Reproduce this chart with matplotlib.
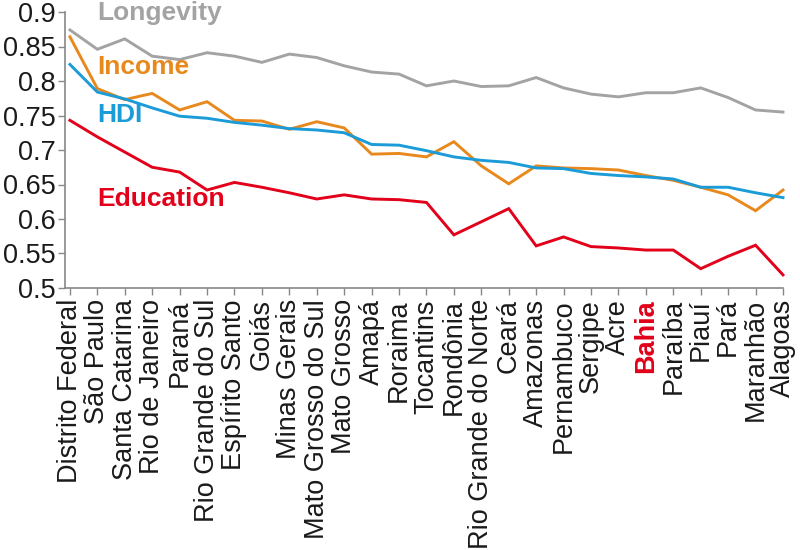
import matplotlib
matplotlib.use("Agg")
import matplotlib.pyplot as plt

states = ["Distrito Federal", "São Paulo", "Santa Catarina", "Rio de Janeiro", "Paraná",
          "Rio Grande do Sul", "Espírito Santo", "Goiás", "Minas Gerais", "Mato Grosso do Sul",
          "Mato Grosso", "Amapá", "Roraima", "Tocantins", "Rondônia", "Rio Grande do Norte",
          "Ceará", "Amazonas", "Pernambuco", "Sergipe", "Acre", "Bahia", "Paraíba", "Piauí",
          "Pará", "Maranhão", "Alagoas"]

longevity = [0.874, 0.846, 0.861, 0.836, 0.831, 0.841, 0.836, 0.827, 0.839, 0.834,
             0.822, 0.813, 0.810, 0.793, 0.800, 0.792, 0.793, 0.805, 0.790, 0.781,
             0.777, 0.783, 0.783, 0.790, 0.776, 0.758, 0.755]
income = [0.864, 0.789, 0.773, 0.782, 0.758, 0.770, 0.743, 0.742, 0.730, 0.741,
          0.732, 0.694, 0.695, 0.690, 0.712, 0.677, 0.651, 0.677, 0.674, 0.673,
          0.671, 0.663, 0.656, 0.646, 0.635, 0.612, 0.642]
hdi = [0.824, 0.784, 0.774, 0.761, 0.749, 0.746, 0.740, 0.736, 0.731, 0.729,
       0.725, 0.708, 0.707, 0.699, 0.690, 0.685, 0.682, 0.674, 0.673, 0.666,
       0.663, 0.661, 0.658, 0.646, 0.646, 0.638, 0.631]
education = [0.743, 0.719, 0.697, 0.675, 0.668, 0.642, 0.653, 0.646, 0.638, 0.629,
             0.635, 0.629, 0.628, 0.624, 0.577, 0.596, 0.615, 0.561, 0.574, 0.560,
             0.558, 0.555, 0.555, 0.528, 0.546, 0.562, 0.519]

series = [("Longevity", longevity, "#a3a3a3", 0.898),
          ("Income", income, "#e8891d", 0.820),
          ("HDI", hdi, "#1b9bd7", 0.751),
          ("Education", education, "#e2001a", 0.629)]

highlight = "Bahia"

plt.rcParams['font.family'] = ['Liberation Sans', 'DejaVu Sans']

fig = plt.figure(figsize=(8, 5.5), dpi=100)
ax = fig.add_axes([65/800, 1 - 288/550, (783 - 65)/800, (288 - 12)/550])

x = list(range(len(states)))
for name, vals, color, ly in series:
    ax.plot(x, vals, color=color, lw=2.1, solid_joinstyle='miter', clip_on=False)
    ax.text(1.0, ly, name, color=color, fontsize=19, fontweight='bold',
            ha='left', va='center')

ax.set_xlim(-0.18, 26)
ax.set_ylim(0.5, 0.9)
ax.set_yticks([0.5, 0.55, 0.6, 0.65, 0.7, 0.75, 0.8, 0.85, 0.9])
ax.set_yticklabels(["0.5", "0.55", "0.6", "0.65", "0.7", "0.75", "0.8", "0.85", "0.9"])
ax.set_xticks(x)
ax.set_xticklabels(states, rotation=90, ha='center', va='top')

for s in ['top', 'right']:
    ax.spines[s].set_visible(False)
for s in ['left', 'bottom']:
    ax.spines[s].set_color('#888888')
    ax.spines[s].set_linewidth(1.2)
ax.tick_params(axis='both', colors='#888888', labelcolor='#1a1a1a',
               labelsize=19.5, length=5, width=1.0, direction='out')
ax.tick_params(axis='y', pad=2)
ax.tick_params(axis='x', pad=3)
for lab in ax.get_xticklabels():
    if lab.get_text() == highlight:
        lab.set_color("#e2001a")
        lab.set_fontweight('bold')

fig.savefig("out.png", dpi=100)
